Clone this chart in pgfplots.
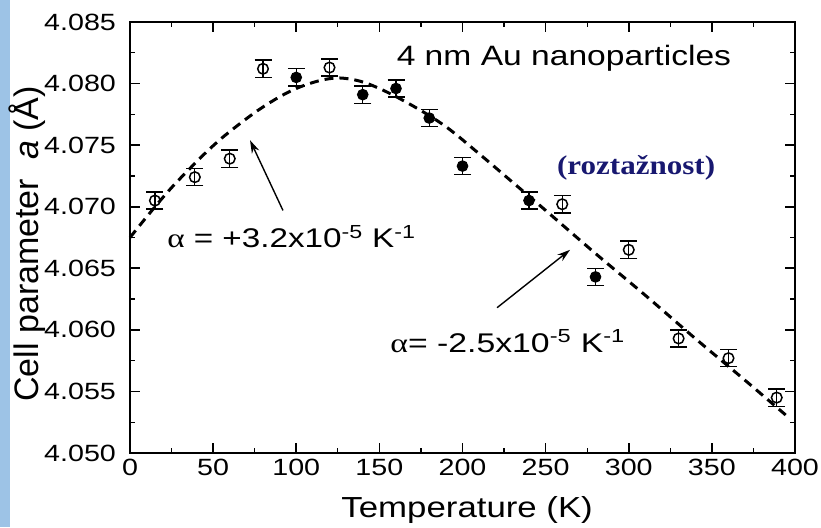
\documentclass[border=0pt]{standalone}
\usepackage{pgfplots}
\pgfplotsset{compat=1.18}
\usetikzlibrary{arrows.meta}
\usepackage{fontspec}
\setmainfont{Liberation Sans}
\newfontfamily\greekfont{Liberation Serif}
\newfontfamily\titlefont{Liberation Serif}

\definecolor{stripblue}{RGB}{157,195,230}
\definecolor{notecolor}{RGB}{24,24,112}

% lattice parameter of 4 nm Au particles, two measurement runs
\pgfplotstableread{
T     a
15    4.0705
39    4.0724
60    4.0739
80    4.0812
120   4.0813
260   4.0702
300   4.0665
330   4.0593
360   4.0577
389   4.0545
}\opendata
\pgfplotstableread{
T     a
100   4.0805
140   4.0791
160   4.0796
180   4.0772
200   4.0733
240   4.0705
280   4.0643
}\filleddata
% fitted trend
\pgfplotstableread{
T     a
0     4.0675
12    4.0695
24    4.0714
36    4.0731
48    4.0747
60    4.0761
80    4.0781
100   4.0796
120   4.0804
135   4.0803
150   4.0796
170   4.0782
190   4.0765
210   4.0743
230   4.0720
250   4.0697
280   4.0662
310   4.0628
340   4.0593
370   4.0559
396   4.0529
}\fitdata

\begin{document}
\begin{tikzpicture}
\path[use as bounding box] (0pt,0pt) rectangle (821pt,527pt);
\fill[stripblue] (0pt,0pt) rectangle (10pt,527pt);
\begin{axis}[
  at={(130pt,74pt)}, anchor=south west,
  scale only axis, width=665pt, height=431pt,
  xmin=0, xmax=400, ymin=4.050, ymax=4.085,
  xtick={0,50,...,400},
  ytick={4.050,4.055,4.060,4.065,4.070,4.075,4.080,4.085},
  minor x tick num=1, minor y tick num=1,
  tick align=inside, tick pos=both,
  major tick length=10pt, minor tick length=5pt,
  axis line style={line width=2pt},
  major tick style={line width=1.6pt, black},
  minor tick style={line width=1.2pt, black},
  scaled y ticks=false,
  /pgf/number format/assume math mode=true,
  yticklabel style={/pgf/number format/fixed, /pgf/number format/fixed zerofill,
                    /pgf/number format/precision=3},
  ticklabel style={font=\fontsize{23.5}{23.5}\selectfont, xscale=1.22},
  xticklabel style={yshift=-3pt},
  yticklabel style={xshift=-8pt},
  xlabel={Temperature (K)},
  xlabel style={font=\fontsize{29}{29}\selectfont, xscale=1.2, anchor=base,
                at={(axis description cs:0.507,-0.1485)}},
  ylabel={Cell parameter\ \ \textit{a} (Å)},
  ylabel style={font=\fontsize{34}{34}\selectfont, anchor=center,
                at={(axis description cs:-0.155,0.485)}},
  clip=false,
]
% trend line
\addplot[black, line width=3pt, dash pattern=on 9pt off 6pt, smooth, tension=0.6]
  table[x=T, y=a] {\fitdata};
% open symbols
\addplot[only marks, black, mark=o, mark size=5.3pt,
  mark options={line width=1.5pt, fill=white},
  error bars/.cd, y dir=both, y fixed=0.0007,
  error bar style={line width=1.3pt, black},
  error mark options={rotate=90, mark size=8.5pt, line width=1.4pt, black}]
  table[x=T, y=a] {\opendata};
% filled symbols
\addplot[only marks, black, mark=*, mark size=5.3pt,
  mark options={line width=1pt, fill=black},
  error bars/.cd, y dir=both, y fixed=0.0007,
  error bar style={line width=1.3pt, black},
  error mark options={rotate=90, mark size=8.5pt, line width=1.4pt, black}]
  table[x=T, y=a] {\filleddata};

% annotations
\node[anchor=base, font=\fontsize{28}{28}\selectfont, xscale=1.2]
  at (axis cs:261,4.0815) {4 nm Au nanoparticles};
\node[anchor=base, text=notecolor, font=\titlefont\bfseries\fontsize{27}{27}\selectfont, xscale=1.15]
  at (axis cs:304.4,4.0726) {(roztažnost)};
\node[anchor=base west, font=\fontsize{27}{27}\selectfont, xscale=1.23]
  at (axis cs:19.8,4.0667) {{\greekfont α} = +3.2x10\textsuperscript{-5} K\textsuperscript{-1}};
\node[anchor=base west, font=\fontsize{27}{27}\selectfont, xscale=1.25]
  at (axis cs:154,4.0582) {{\greekfont α}= -2.5x10\textsuperscript{-5} K\textsuperscript{-1}};
\draw[-{Stealth[length=13pt,width=8pt]}, line width=1.4pt]
  (axis cs:92,4.0697) -- (axis cs:72.2,4.0754);
\draw[-{Stealth[length=13pt,width=8pt]}, line width=1.4pt]
  (axis cs:220.8,4.0618) -- (axis cs:264.7,4.0665);
\end{axis}
\end{tikzpicture}
\end{document}
